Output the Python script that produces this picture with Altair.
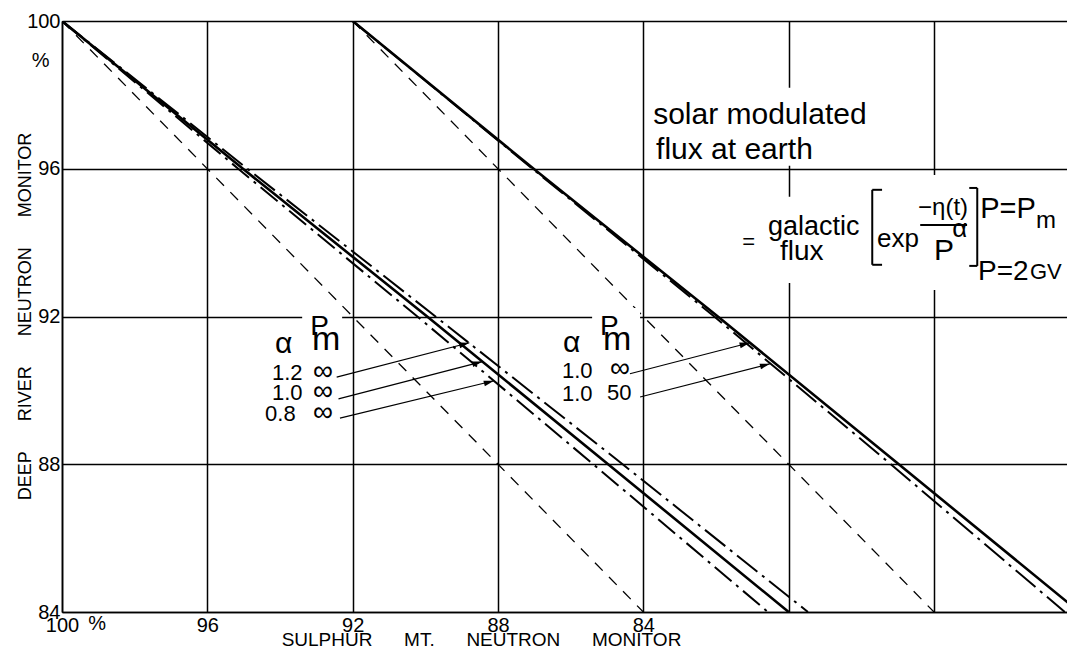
import altair as alt
import pandas as pd

# ---------------- data ----------------
Y_LEVELS = [100, 96, 92, 88, 84]                 # Deep River levels (%)
# Sulphur Mt. value at which each curve crosses the Y_LEVELS
set1_a12_inf = [100, 94.90, 89.72, 84.57, 79.47]  # alpha 1.2, Pm inf
set1_a10_inf = [100, 95.02, 89.95, 84.97, 80.00]  # alpha 1.0, Pm inf
set1_a08_inf = [100, 95.15, 90.22, 85.38, 80.57]  # alpha 0.8, Pm inf
set2_a10_inf = [92, 87.02, 81.95, 76.97, 72.00]   # alpha 1.0, Pm inf (shifted set)
set2_a10_50 = [92, 87.05, 82.05, 77.19, 72.40]    # alpha 1.0, Pm 50 (shifted set)
ref1_x = [100, 84]
ref1_y = [100, 84]
ref2_x = [92, 76]
ref2_y = [100, 84]

X_TICKS = [100, 96, 92, 88, 84, 80, 76]
Y_TICKS = [100, 96, 92, 88, 84]
X_DOMAIN = [72.34, 100]
Y_DOMAIN = [84, 100]

rows = []
for name, xs in [("a12", set1_a12_inf), ("a10", set1_a10_inf), ("a08", set1_a08_inf),
                 ("b10", set2_a10_inf), ("b50", set2_a10_50)]:
    for xv, yv in zip(xs, Y_LEVELS):
        rows.append({"s": name, "x": xv, "y": yv})
for name, xs, ys in [("r1", ref1_x, ref1_y), ("r2", ref2_x, ref2_y)]:
    for xv, yv in zip(xs, ys):
        rows.append({"s": name, "x": xv, "y": yv})
lines_df = pd.DataFrame(rows)

STYLES = {
    "r1": dict(strokeDash=[11, 9], strokeWidth=1.3),
    "r2": dict(strokeDash=[11, 9], strokeWidth=1.3),
    "a12": dict(strokeDash=[26, 6, 3, 6], strokeWidth=2.0),
    "a10": dict(strokeWidth=2.6),
    "a08": dict(strokeDash=[22, 6, 3, 6], strokeWidth=2.0),
    "b10": dict(strokeWidth=2.6),
    "b50": dict(strokeDash=[26, 6, 3, 6], strokeWidth=2.0),
}

# annotation texts (data coordinates, left / alphabetic baseline)
ann_text = ["solar modulated", "flux at earth", "=", "galactic", "flux", "exp",
            "\u2212\u03b7(t)", "P", "\u03b1", "P=P", "m", "P=2", "GV",
            "\u03b1", "P", "m", "1.2", "\u221e", "1.0", "\u221e", "0.8", "\u221e",
            "\u03b1", "P", "m", "1.0", "\u221e", "1.0", "50",
            "%", "%"]
ann_x = [83.73, 83.65, 81.28, 80.57, 80.24, 77.57,
         76.44, 76.00, 75.50, 74.73, 73.19, 74.79, 73.36,
         94.14, 93.17, 93.12, 94.22, 93.09, 94.22, 93.09, 94.41, 93.09,
         86.21, 85.19, 85.11, 86.24, 84.92, 86.24, 85.00,
         100.83, 99.28]
ann_y = [97.21, 96.27, 93.83, 94.21, 93.53, 93.88,
         94.75, 93.53, 94.15, 94.67, 94.40, 92.99, 93.02,
         91.01, 91.50, 91.10, 90.28, 90.28, 89.74, 89.74, 89.17, 89.17,
         91.04, 91.50, 91.10, 90.34, 90.37, 89.72, 89.74,
         98.76, 83.52]
ann_fs = [30, 30, 22, 27, 28, 26,
          24, 30, 26, 29, 24, 28, 22,
          30, 28, 34, 22, 28, 22, 28, 22, 28,
          30, 28, 34, 22, 28, 22, 22,
          20, 20]
ann_df = pd.DataFrame({"t": ann_text, "x": ann_x, "y": ann_y, "fs": ann_fs})

# white patches behind labels that interrupt the grid
mask_x = [93.39, 85.41, 83.87, 80.79, 77.87]
mask_x2 = [92.29, 84.09, 77.76, 77.82, 74.79]
mask_y = [92.23, 92.23, 98.19, 95.24, 95.83]
mask_y2 = [91.75, 91.75, 96.08, 92.91, 92.72]
mask_df = pd.DataFrame({"x": mask_x, "x2": mask_x2, "y": mask_y, "y2": mask_y2})

# bracket strokes and fraction bar
brk_x = [77.70, 77.70, 77.70, 74.81, 74.81, 74.81, 76.38]
brk_x2 = [77.70, 77.43, 77.43, 74.81, 75.03, 75.03, 75.09]
brk_y = [95.43, 95.43, 93.40, 95.48, 95.48, 93.37, 94.48]
brk_y2 = [93.40, 95.43, 93.40, 93.37, 95.48, 93.37, 94.48]
brk_df = pd.DataFrame({"x": brk_x, "x2": brk_x2, "y": brk_y, "y2": brk_y2})

# arrows: from label to curve
arr_x = [92.44, 92.39, 92.35, 84.37, 84.09]
arr_y = [90.36, 89.77, 89.25, 90.45, 89.82]
arr_x2 = [88.79, 88.43, 88.11, 81.07, 80.51]
arr_y2 = [91.29, 90.78, 90.26, 91.29, 90.72]
arr_df = pd.DataFrame({"x": arr_x, "y": arr_y, "x2": arr_x2, "y2": arr_y2})

# ---------------- chart ----------------
FONT = "Liberation Sans"
NB = "\u00a0" * 6

x_axis = alt.Axis(values=X_TICKS, grid=True, gridColor="black", gridWidth=1.5, gridOpacity=1,
                  ticks=False, domain=True, domainColor="black", domainWidth=1.6,
                  labelExpr="datum.value >= 84 ? datum.label : ''",
                  labelFont=FONT, labelFontSize=20, labelColor="black", labelPadding=3,
                  labelBaseline="top", labelFlush=False,
                  title="SULPHUR" + NB + "MT." + NB + "NEUTRON" + NB + "MONITOR",
                  titleFont=FONT, titleFontSize=19, titleFontWeight="normal", titleColor="black",
                  titleX=419, titleY=33, titleBaseline="alphabetic", titleAlign="center")
y_axis = alt.Axis(values=Y_TICKS, grid=True, gridColor="black", gridWidth=1.5, gridOpacity=1,
                  ticks=False, domain=True, domainColor="black", domainWidth=1.6,
                  labelFont=FONT, labelFontSize=20, labelColor="black", labelPadding=2,
                  labelAlign="right", labelBaseline="middle", labelFlush=False,
                  title="DEEP" + NB + "RIVER" + NB + "NEUTRON" + NB + "MONITOR",
                  titleFont=FONT, titleFontSize=18, titleFontWeight="normal", titleColor="black",
                  titleX=-32, titleY=295, titleBaseline="alphabetic", titleAlign="center",
                  titleAngle=270)

xs = alt.Scale(domain=X_DOMAIN, reverse=True, nice=False, zero=False)
ys = alt.Scale(domain=Y_DOMAIN, nice=False, zero=False)
X = alt.X("x:Q", scale=xs, axis=x_axis)
Y = alt.Y("y:Q", scale=ys, axis=y_axis)

layers = []
for name in ["r1", "r2", "a12", "a08", "a10", "b50", "b10"]:
    layers.append(
        alt.Chart(lines_df).transform_filter(alt.datum.s == name)
        .mark_line(color="black", clip=True, **STYLES[name])
        .encode(x=X, y=Y)
    )

masks = alt.Chart(mask_df).mark_rect(color="white", opacity=1).encode(
    x=X, x2="x2:Q", y=Y, y2="y2:Q")
brackets = alt.Chart(brk_df).mark_rule(color="black", strokeWidth=2).encode(
    x=X, x2="x2:Q", y=Y, y2="y2:Q")
arrows = alt.Chart(arr_df).mark_rule(color="black", strokeWidth=1.2).encode(
    x=X, x2="x2:Q", y=Y, y2="y2:Q")
heads = alt.Chart(arr_df).mark_point(
    shape="M0,0L-1,-0.28L-1,0.28Z", filled=True, color="black", opacity=1,
    size=420, angle=345, strokeWidth=0).encode(
    x=alt.X("x2:Q", scale=xs, axis=x_axis), y=alt.Y("y2:Q", scale=ys, axis=y_axis))
texts = alt.Chart(ann_df).mark_text(
    align="left", baseline="alphabetic", font=FONT, color="black").encode(
    x=X, y=Y, text="t:N", size=alt.Size("fs:Q", scale=None, legend=None))

chart = alt.layer(*layers, masks, brackets, arrows, heads, texts).properties(
    width=1005, height=591, autosize="none",
    padding={"left": 62, "top": 21, "right": 0, "bottom": 37},
    background="white",
).configure_view(stroke=None)

chart.save("out.html", embed_options={"renderer": "svg", "actions": False})
